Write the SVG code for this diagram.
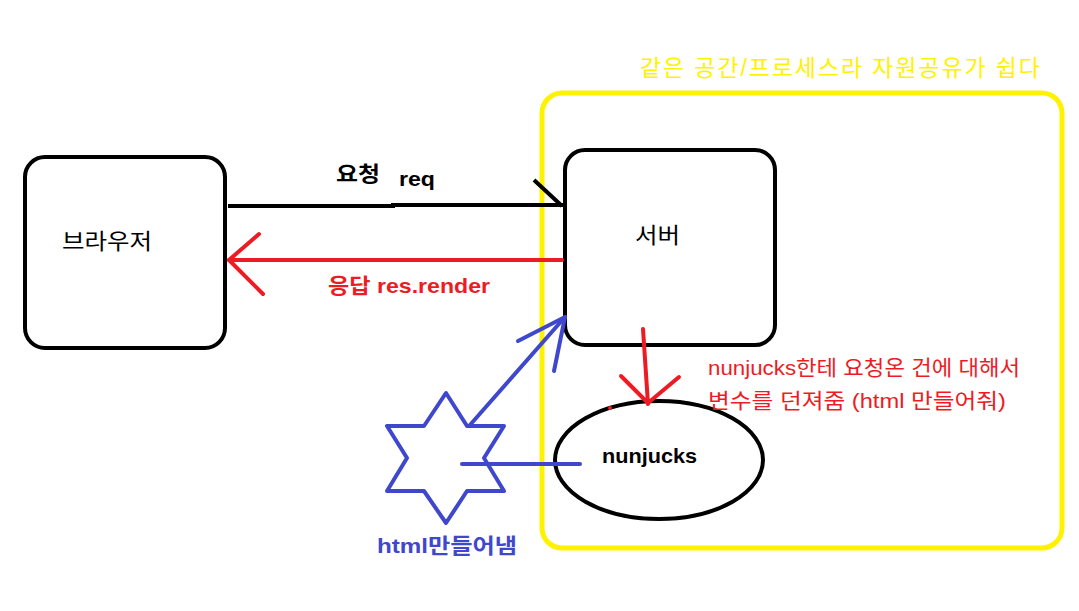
<svg xmlns="http://www.w3.org/2000/svg" width="1079" height="611" viewBox="0 0 1079 611">
<style>
text{font-family:"Liberation Sans","Noto Sans CJK KR",sans-serif;}
.blk{fill:none;stroke:#000;stroke-width:4;}
.red{fill:none;stroke:#ed1c24;stroke-width:4;stroke-linecap:round;stroke-linejoin:round;}
.blue{fill:none;stroke:#3f48cc;stroke-width:4;stroke-linecap:round;stroke-linejoin:round;}
.b{font-weight:bold;}
</style>
<rect width="1079" height="611" fill="#fff"/>
<g id="group-yellow">
<rect x="542" y="93" width="520" height="455" rx="20" fill="none" stroke="#fff200" stroke-width="5"/>
<text x="640" y="76" font-size="23" fill="#fff200" textLength="400" lengthAdjust="spacing">같은 공간/프로세스라 자원공유가 쉽다</text>
</g>
<g id="browser">
<rect x="25" y="157" width="200" height="191" rx="20" class="blk"/>
<text x="62" y="249" font-size="22" fill="#000" textLength="90" lengthAdjust="spacingAndGlyphs">브라우저</text>
</g>
<g id="server">
<rect x="565" y="150" width="210" height="195" rx="20" class="blk"/>
<text x="635" y="243" font-size="22" fill="#000" textLength="45" lengthAdjust="spacingAndGlyphs">서버</text>
</g>
<g id="nunjucks">
<ellipse cx="659" cy="460" rx="104" ry="59" class="blk"/>
<text x="602" y="463" font-size="21" class="b" fill="#000" textLength="95" lengthAdjust="spacingAndGlyphs">nunjucks</text>
</g>
<g id="html">
<polygon points="446,393 467,426 504,426 484,458 504,491 467,491 446,523 424,491 387,491 407,458 387,426 424,426" class="blue"/>
<text x="377" y="553" font-size="21" class="b" fill="#3f48cc" textLength="140" lengthAdjust="spacingAndGlyphs">html만들어냄</text>
</g>
<g id="connectors">
<path d="M228,206 H393 V205 H563" class="blk"/>
<path d="M534,180 L562,206" class="blk"/>
<text x="336" y="181" font-size="21" class="b" fill="#000" textLength="44" lengthAdjust="spacingAndGlyphs">요청</text>
<text x="399" y="186" font-size="21" class="b" fill="#000" textLength="36" lengthAdjust="spacingAndGlyphs">req</text>
<path d="M562,260 H229" class="red"/>
<path d="M259,234 L229,260 L263,294" class="red"/>
<text x="328" y="293" font-size="21" class="b" fill="#ed1c24" textLength="162" lengthAdjust="spacingAndGlyphs">응답 res.render</text>
<path d="M643,329 L648,404" class="red"/>
<path d="M621,376 L648,403 L679,377" class="red"/>
<circle cx="610" cy="408" r="2" fill="#ed1c24"/>
<text x="708" y="375" font-size="21" fill="#ed1c24" textLength="312" lengthAdjust="spacingAndGlyphs">nunjucks한테 요청온 건에 대해서</text>
<text x="708" y="408" font-size="21" fill="#ed1c24" textLength="298" lengthAdjust="spacingAndGlyphs">변수를 던져줌 (html 만들어줘)</text>
<path d="M470,425 L565,317" class="blue"/>
<path d="M518,341 L565,317 L554,371" class="blue"/>
<path d="M462,464 H580" class="blue"/>
</g>
</svg>
